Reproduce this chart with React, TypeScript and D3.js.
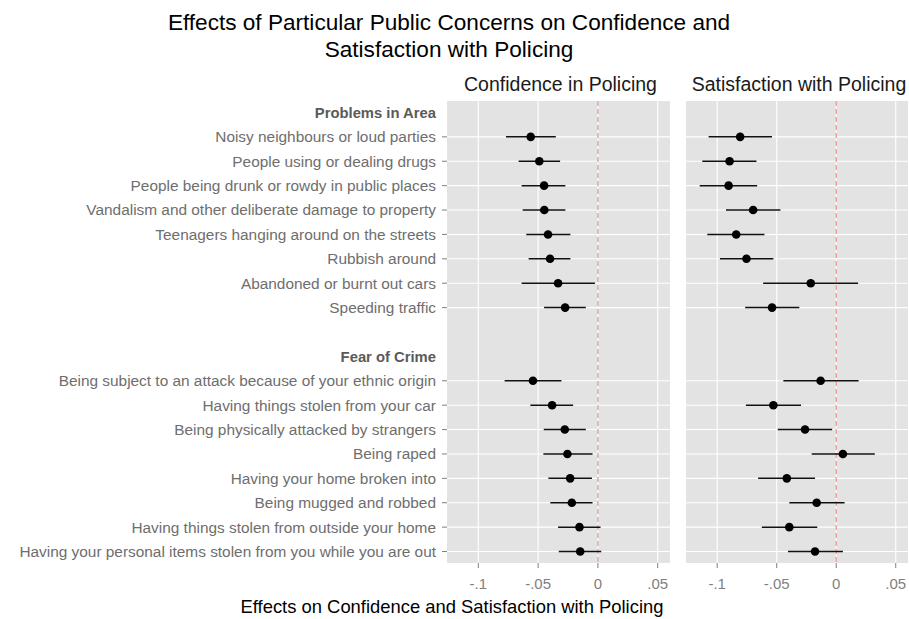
import React from "react";
import * as d3 from "d3";

const problemItems = [
  "Noisy neighbours or loud parties",
  "People using or dealing drugs",
  "People being drunk or rowdy in public places",
  "Vandalism and other deliberate damage to property",
  "Teenagers hanging around on the streets",
  "Rubbish around",
  "Abandoned or burnt out cars",
  "Speeding traffic",
];
const fearItems = [
  "Being subject to an attack because of your ethnic origin",
  "Having things stolen from your car",
  "Being physically attacked by strangers",
  "Being raped",
  "Having your home broken into",
  "Being mugged and robbed",
  "Having things stolen from outside your home",
  "Having your personal items stolen from you while you are out",
];
const groupHeaders = ["Problems in Area", "Fear of Crime"];

// Confidence in Policing
const confEst = [-0.0562, -0.049, -0.045, -0.0448, -0.0417, -0.04, -0.0333, -0.0274,
  -0.0543, -0.0383, -0.0277, -0.0255, -0.0232, -0.0218, -0.0154, -0.0148];
const confLo = [-0.0769, -0.0663, -0.0638, -0.0629, -0.0599, -0.0579, -0.0638, -0.045,
  -0.078, -0.0565, -0.0453, -0.0456, -0.0414, -0.0398, -0.0333, -0.0327];
const confHi = [-0.0352, -0.0316, -0.0272, -0.0272, -0.023, -0.023, -0.0025, -0.0101,
  -0.0305, -0.0207, -0.0101, -0.0045, -0.005, -0.0045, 0.0022, 0.0028];

// Satisfaction with Policing
const satEst = [-0.0807, -0.0896, -0.0904, -0.0698, -0.084, -0.0754, -0.0214, -0.0539,
  -0.0131, -0.0528, -0.0262, 0.0056, -0.0415, -0.0164, -0.0394, -0.0178];
const satLo = [-0.1072, -0.1125, -0.1147, -0.0926, -0.1083, -0.0977, -0.0614, -0.0765,
  -0.0444, -0.0759, -0.0491, -0.0206, -0.0656, -0.0394, -0.0625, -0.0405];
const satHi = [-0.0539, -0.067, -0.0664, -0.0469, -0.0603, -0.0528, 0.0184, -0.031,
  0.0188, -0.0296, -0.0034, 0.0324, -0.0178, 0.007, -0.0159, 0.0056];

const xTicks = [-0.1, -0.05, 0, 0.05];
const xTickLabels = ["-.1", "-.05", "0", ".05"];
const panelTitles = ["Confidence in Policing", "Satisfaction with Policing"];
const titleLines = [
  "Effects of Particular Public Concerns on Confidence and",
  "Satisfaction with Policing",
];
const xAxisTitle = "Effects on Confidence and Satisfaction with Policing";

const FONT = "'Liberation Sans', Arial, Helvetica, sans-serif";

export default function App() {
  const W = 909;
  const H = 619;
  const top = 101;
  const bottom = 563;
  const panels = [
    { x0: 447, x1: 670, est: confEst, lo: confLo, hi: confHi },
    { x0: 686, x1: 908, est: satEst, lo: satLo, hi: satHi },
  ];
  const items = [...problemItems, ...fearItems];
  const rowKeys = ["__h1", ...problemItems, "__blank", "__h2", ...fearItems];
  const y = d3.scalePoint<string>().domain(rowKeys).range([top, bottom]).padding(0.47);

  const labelColor = "#6e6e6e";

  return (
    <svg
      width={W}
      height={H}
      style={{ position: "absolute", left: 0, top: 0, background: "#fff" }}
      fontFamily={FONT}
    >
      {/* Title */}
      {titleLines.map((t, i) => (
        <text key={t} x={449} y={30 + i * 26.5} textAnchor="middle" fontSize={22.6} fill="#000">
          {t}
        </text>
      ))}

      {panels.map((p, pi) => {
        const x = d3.scaleLinear().domain([-0.1262, 0.0603]).range([p.x0, p.x1]);
        return (
          <g key={pi}>
            <rect x={p.x0} y={top} width={p.x1 - p.x0} height={bottom - top} fill="#e3e3e3" />
            {xTicks.map((t) => (
              <line key={"v" + t} x1={x(t)} x2={x(t)} y1={top} y2={bottom} stroke="#fff" strokeWidth={1.1} />
            ))}
            {items.map((it) => (
              <line key={"h" + it} x1={p.x0} x2={p.x1} y1={y(it)} y2={y(it)} stroke="#fff" strokeWidth={1.1} />
            ))}
            <line
              x1={x(0)}
              x2={x(0)}
              y1={top}
              y2={bottom}
              stroke="#f2a0a0"
              strokeWidth={1.5}
              strokeDasharray="5,3"
            />
            {items.map((it, i) => (
              <g key={"e" + it}>
                <line x1={x(p.lo[i])} x2={x(p.hi[i])} y1={y(it)} y2={y(it)} stroke="#111" strokeWidth={1.5} />
                <circle cx={x(p.est[i])} cy={y(it)} r={4.3} fill="#000" />
              </g>
            ))}
            {/* strip title */}
            <text x={(p.x0 + p.x1) / 2 + 2} y={91} textAnchor="middle" fontSize={19.5} fill="#1a1a1a">
              {panelTitles[pi]}
            </text>
            {/* x axis */}
            {xTicks.map((t, ti) => (
              <g key={"xt" + t}>
                <line x1={x(t)} x2={x(t)} y1={bottom} y2={bottom + 5} stroke="#7f7f7f" strokeWidth={1} />
                <text x={x(t)} y={589} textAnchor="middle" fontSize={15} fill="#7f7f7f">
                  {xTickLabels[ti]}
                </text>
              </g>
            ))}
          </g>
        );
      })}

      {/* y axis labels */}
      {items.map((it) => (
        <g key={"yl" + it}>
          <line x1={442} x2={447} y1={y(it)} y2={y(it)} stroke="#7f7f7f" strokeWidth={1} />
          <text x={436} y={y(it)!} dy="0.35em" textAnchor="end" fontSize={15.4} fill={labelColor}>
            {it}
          </text>
        </g>
      ))}
      {[["__h1", groupHeaders[0]], ["__h2", groupHeaders[1]]].map(([k, t]) => (
        <text key={k} x={436} y={y(k)!} dy="0.35em" textAnchor="end" fontSize={14.8} fontWeight="bold" fill="#5a5a5a">
          {t}
        </text>
      ))}

      {/* x axis title */}
      <text x={452} y={613} textAnchor="middle" fontSize={18.4} fill="#000">
        {xAxisTitle}
      </text>
    </svg>
  );
}
